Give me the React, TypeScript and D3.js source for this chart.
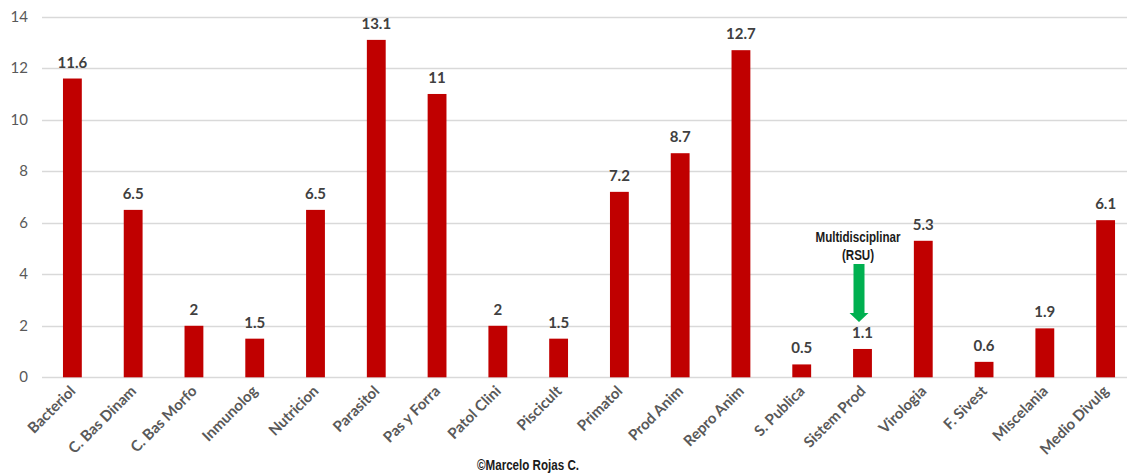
import { useEffect, useRef } from 'react'
import * as d3 from 'd3'

const categories = [
  'Bacteriol', 'C. Bas Dinam', 'C. Bas Morfo', 'Inmunolog', 'Nutricion', 'Parasitol',
  'Pas y Forra', 'Patol Clini', 'Piscicult', 'Primatol', 'Prod Anim', 'Repro Anim',
  'S. Publica', 'Sistem Prod', 'Virologia', 'F. Sivest', 'Miscelania', 'Medio Divulg',
]
const values = [11.6, 6.5, 2, 1.5, 6.5, 13.1, 11, 2, 1.5, 7.2, 8.7, 12.7, 0.5, 1.1, 5.3, 0.6, 1.9, 6.1]
const yTicks = [0, 2, 4, 6, 8, 10, 12, 14]
const annotation = { category: 'Sistem Prod', lines: ['Multidisciplinar', '(RSU)'] }
const credit = '©Marcelo Rojas C.'

const W = 1127
const H = 473
const BAR = '#C00000'
const GRID = '#D9D9D9'
const TICK = '#595959'
const LABEL = '#404040'
const FONT = "Lato, 'Open Sans', sans-serif"
const NARROW = "'Liberation Sans', Arial, sans-serif"
const NARROW_SCALE = 0.8

export default function App() {
  const ref = useRef<SVGSVGElement>(null)

  useEffect(() => {
    if (!ref.current) return
    const svg = d3.select(ref.current)
    svg.selectAll('*').remove()

    const x = d3.scaleBand().domain(categories).range([42, 1136]).paddingInner(0.69).paddingOuter(0.345)
    const y = d3.scaleLinear().domain([0, 14]).range([377.3, 16.7])

    // grid lines
    svg.append('g')
      .selectAll('line')
      .data(yTicks)
      .join('line')
      .attr('x1', 42)
      .attr('x2', W)
      .attr('y1', (d) => Math.round(y(d)) + 0.5)
      .attr('y2', (d) => Math.round(y(d)) + 0.5)
      .attr('stroke', GRID)
      .attr('stroke-width', 1.3)

    // y tick labels
    svg.append('g')
      .selectAll('text')
      .data(yTicks)
      .join('text')
      .attr('x', 28)
      .attr('y', (d) => y(d) + 5)
      .attr('text-anchor', 'end')
      .attr('font-family', FONT)
      .attr('font-size', 15)
      .attr('fill', TICK)
      .text((d) => d)

    const data = categories.map((c, i) => ({ c, v: values[i] }))

    // bars
    svg.append('g')
      .selectAll('rect')
      .data(data)
      .join('rect')
      .attr('x', (d) => x(d.c)!)
      .attr('y', (d) => y(d.v))
      .attr('width', x.bandwidth())
      .attr('height', (d) => y(0) - y(d.v))
      .attr('fill', BAR)

    // value labels
    svg.append('g')
      .selectAll('text')
      .data(data)
      .join('text')
      .attr('x', (d) => x(d.c)! + x.bandwidth() / 2)
      .attr('y', (d) => y(d.v) - 11)
      .attr('text-anchor', 'middle')
      .attr('font-family', FONT)
      .attr('font-weight', 700)
      .attr('font-size', 15)
      .attr('fill', LABEL)
      .text((d) => d.v)

    // category labels, rotated
    svg.append('g')
      .selectAll('text')
      .data(categories)
      .join('text')
      .attr('transform', (d) => `translate(${x(d)! + x.bandwidth() / 2 + 4},${392}) rotate(-45)`)
      .attr('text-anchor', 'end')
      .attr('font-family', FONT)
      .attr('font-weight', 700)
      .attr('font-size', 15)
      .attr('fill', TICK)
      .text((d) => d)

    // annotation + arrow
    const cx = x(annotation.category)! + x.bandwidth() / 2 - 3.5
    const v = values[categories.indexOf(annotation.category)]
    const tip = y(v) - 27
    const arrow = d3.path()
    arrow.moveTo(cx - 5.5, tip - 58)
    arrow.lineTo(cx + 5.5, tip - 58)
    arrow.lineTo(cx + 5.5, tip - 9)
    arrow.lineTo(cx + 9.5, tip - 9)
    arrow.lineTo(cx, tip)
    arrow.lineTo(cx - 9.5, tip - 9)
    arrow.lineTo(cx - 5.5, tip - 9)
    arrow.closePath()
    svg.append('path').attr('d', arrow.toString()).attr('fill', '#00B050')

    svg.append('g')
      .selectAll('text')
      .data(annotation.lines)
      .join('text')
      .attr('transform', (_, i) => `translate(${cx - 1},${tip - 80 + i * 18}) scale(${NARROW_SCALE},1)`)
      .attr('text-anchor', 'middle')
      .attr('font-family', NARROW)
      .attr('font-weight', 700)
      .attr('font-size', 14.5)
      .attr('fill', '#1a1a1a')
      .text((d) => d)

    svg.append('text')
      .attr('transform', `translate(528,470) scale(${NARROW_SCALE},1)`)
      .attr('text-anchor', 'middle')
      .attr('font-family', NARROW)
      .attr('font-weight', 700)
      .attr('font-size', 14.5)
      .attr('fill', '#1a1a1a')
      .text(credit)
  }, [])

  return (
    <svg
      ref={ref}
      width={W}
      height={H}
      style={{ position: 'absolute', left: 0, top: 0, background: '#fff', overflow: 'hidden' }}
    />
  )
}
